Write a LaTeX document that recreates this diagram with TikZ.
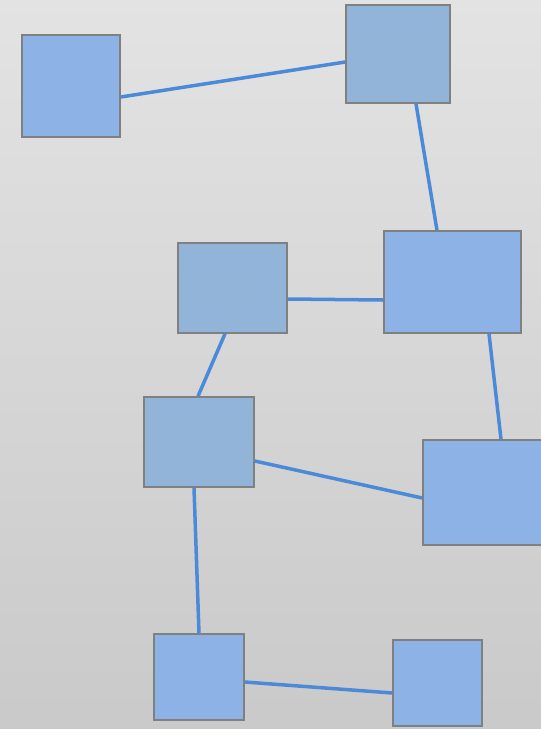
\documentclass[tikz,border=0pt]{standalone}
\usetikzlibrary{positioning}

\definecolor{boxBright}{HTML}{8DB3E6}
\definecolor{boxDull}{HTML}{93B4D9}
\definecolor{boxEdge}{HTML}{808080}
\definecolor{linkBlue}{HTML}{4A8AD8}

\begin{document}
\begin{tikzpicture}[x=1pt, y=-1pt,
    box/.style={draw=boxEdge, line width=1.6pt, inner sep=0pt},
    bright/.style={box, fill=boxBright},
    dull/.style={box, fill=boxDull},
    link/.style={draw=linkBlue, line width=3.5pt}
    ]

    % page size
    \def\pageW{541}
    \def\pageH{729}

    % background
    \useasboundingbox (0,0) rectangle (\pageW,\pageH);
    \shade[top color=black!11, bottom color=black!21] (0,0) rectangle (\pageW,\pageH);

    %% draw boxes
    \node[bright, minimum width=98pt, minimum height=102pt] (A) at (71,86) {};
    \node[dull, minimum width=104pt, minimum height=98pt] (B) at (398,54) {};
    \node[bright, minimum width=137pt, minimum height=102pt] (C) at (452.5,282) {};
    \node[dull, minimum width=109pt, minimum height=90pt] (D) at (232.5,288) {};
    \node[dull, minimum width=110pt, minimum height=90pt] (E) at (199,442) {};
    \node[bright, minimum width=124pt, minimum height=105pt] (F) at (485,492.5) {};
    \node[bright, minimum width=90pt, minimum height=86pt] (G) at (199,677) {};
    \node[bright, minimum width=89pt, minimum height=86pt] (H) at (437.5,683) {};

    %% draw links
    \draw[link] ([yshift=-11pt]A.east) -- ([yshift=-8pt]B.west);
    \draw[link] ([xshift=18pt]B.south) -- ([xshift=-15.5pt]C.north);
    \draw[link] ([yshift=-11pt]D.east) -- ([yshift=-18pt]C.west);
    \draw[link] ([xshift=-7.5pt]D.south) -- ([xshift=-1pt]E.north);
    \draw[link] ([xshift=36.5pt]C.south) -- ([xshift=16pt]F.north);
    \draw[link] ([yshift=-19pt]E.east) -- ([yshift=-5.5pt]F.west);
    \draw[link] ([xshift=-5pt]E.south) -- (G.north);
    \draw[link] ([yshift=-5pt]G.east) -- ([yshift=-10pt]H.west);

\end{tikzpicture}
\end{document}
